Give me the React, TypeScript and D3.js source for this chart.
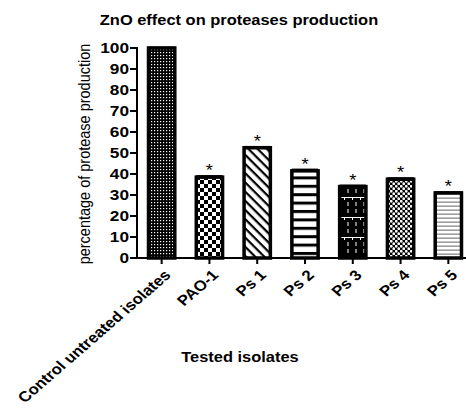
import React from "react";
import * as d3 from "d3";

const categories = ["Control untreated isolates", "PAO-1", "Ps 1", "Ps 2", "Ps 3", "Ps 4", "Ps 5"];
const values = [100, 38.5, 52.5, 41.5, 34, 37.5, 31];
const errors = [0.2, 0.5, 0.4, 0.6, 0.5, 0.5, 0.3];
const marks = ["", "*", "*", "*", "*", "*", "*"];
const patternIds = ["pControl", "pPAO", "pPs1", "pPs2", "pPs3", "pPs4", "pPs5"];
const yTicks = [0, 10, 20, 30, 40, 50, 60, 70, 80, 90, 100];

const FONT = "Arial, 'Liberation Sans', Helvetica, sans-serif";
const SX = 1.15; // horizontal stretch of the text glyphs, as in the reference

export default function App() {
  const W = 466, H = 409;
  const axisX = 137;
  const y = d3.scaleLinear().domain([0, 100]).range([258, 48]);
  const x = d3.scaleBand<string>().domain(categories).range([138, 472]).paddingInner(0.45).paddingOuter(0.22);
  const bw = x.bandwidth();
  return (
    <svg width={W} height={H} style={{ position: "absolute", left: 0, top: 0, background: "#fff" }} fontFamily={FONT}>
      <defs>
        <pattern id="pControl" width={3} height={3} patternUnits="userSpaceOnUse">
          <rect width={3} height={3} fill="#000" />
          <rect x={1} y={1} width={1.2} height={1.2} fill="#fff" />
        </pattern>
        <pattern id="pPAO" width={8} height={8} patternUnits="userSpaceOnUse">
          <rect width={8} height={8} fill="#000" />
          <rect x={0} y={0} width={4} height={4} fill="#fff" />
          <rect x={4} y={4} width={4} height={4} fill="#fff" />
        </pattern>
        <pattern id="pPs1" width={6.5} height={6.5} patternUnits="userSpaceOnUse" patternTransform="rotate(45)">
          <rect width={6.5} height={6.5} fill="#fff" />
          <rect width={6.5} height={2.2} fill="#000" />
        </pattern>
        <pattern id="pPs2" width={8.4} height={8.4} patternUnits="userSpaceOnUse">
          <rect width={8.4} height={8.4} fill="#fff" />
          <rect width={8.4} height={3} fill="#000" />
        </pattern>
        <pattern id="pPs3" width={8} height={20} patternUnits="userSpaceOnUse">
          <rect width={8} height={20} fill="#000" />
          <rect x={3.5} y={2} width={1} height={4} fill="#fff" />
          <rect x={3.5} y={9} width={1} height={4} fill="#fff" />
          <rect x={0} y={17} width={8} height={1} fill="#fff" />
          <rect x={0} y={17} width={1} height={3} fill="#fff" />
        </pattern>
        <pattern id="pPs4" width={5} height={5} patternUnits="userSpaceOnUse">
          <rect width={5} height={5} fill="#000" />
          <circle cx={1.25} cy={1.25} r={1.4} fill="#fff" />
          <circle cx={3.75} cy={3.75} r={1.4} fill="#fff" />
        </pattern>
        <pattern id="pPs5" width={4} height={4} patternUnits="userSpaceOnUse">
          <rect width={4} height={4} fill="#fff" />
          <rect y={1.5} width={4} height={1.3} fill="#888" />
        </pattern>
      </defs>

      <text transform={`translate(239,25) scale(${SX},1)`} textAnchor="middle" fontWeight="bold" fontSize={14.3}>
        ZnO effect on proteases production
      </text>

      {categories.map((c, i) => {
        const x0 = x(c)!;
        const top = y(values[i]);
        const cx = x0 + bw / 2;
        return (
          <g key={c}>
            <rect x={x0} y={top} width={bw} height={y(0) - top} fill={`url(#${patternIds[i]})`} stroke="#000" strokeWidth={3.5} />
            <line x1={cx - bw / 2} x2={cx + bw / 2} y1={y(values[i] + errors[i])} y2={y(values[i] + errors[i])} stroke="#000" strokeWidth={2} />
            {marks[i] && (
              <text transform={`translate(${cx},${top - 1}) scale(${SX},1)`} textAnchor="middle" fontSize={16}>
                {marks[i]}
              </text>
            )}
          </g>
        );
      })}

      {/* y axis */}
      <line x1={axisX} x2={axisX} y1={y(100) - 1} y2={y(0) + 1} stroke="#000" strokeWidth={2} />
      {yTicks.map((t) => (
        <g key={t}>
          <line x1={axisX - 7} x2={axisX} y1={y(t)} y2={y(t)} stroke="#000" strokeWidth={2} />
          <text transform={`translate(${axisX - 8},${y(t)}) scale(${SX},1)`} dy="0.36em" textAnchor="end" fontWeight="bold" fontSize={15}>
            {t}
          </text>
        </g>
      ))}
      {/* x axis */}
      <line x1={axisX - 1} x2={W} y1={y(0)} y2={y(0)} stroke="#000" strokeWidth={2} />
      {categories.map((c) => {
        const cx = x(c)! + bw / 2;
        return (
          <g key={c}>
            <line x1={cx} x2={cx} y1={y(0)} y2={y(0) + 6} stroke="#000" strokeWidth={2} />
            <text transform={`translate(${cx + 10},${y(0) + 18}) scale(${SX},1) rotate(-45)`} textAnchor="end" fontWeight="bold" fontSize={14.6}>
              {c}
            </text>
          </g>
        );
      })}

      <text transform={`translate(90,${(y(0) + y(100)) / 2 + 1}) scale(${SX},1) rotate(-90)`} textAnchor="middle" fontSize={14.5}>
        percentage of protease production
      </text>
      <text transform={`translate(240,362) scale(${SX},1)`} textAnchor="middle" fontWeight="bold" fontSize={14.3}>
        Tested isolates
      </text>
    </svg>
  );
}
